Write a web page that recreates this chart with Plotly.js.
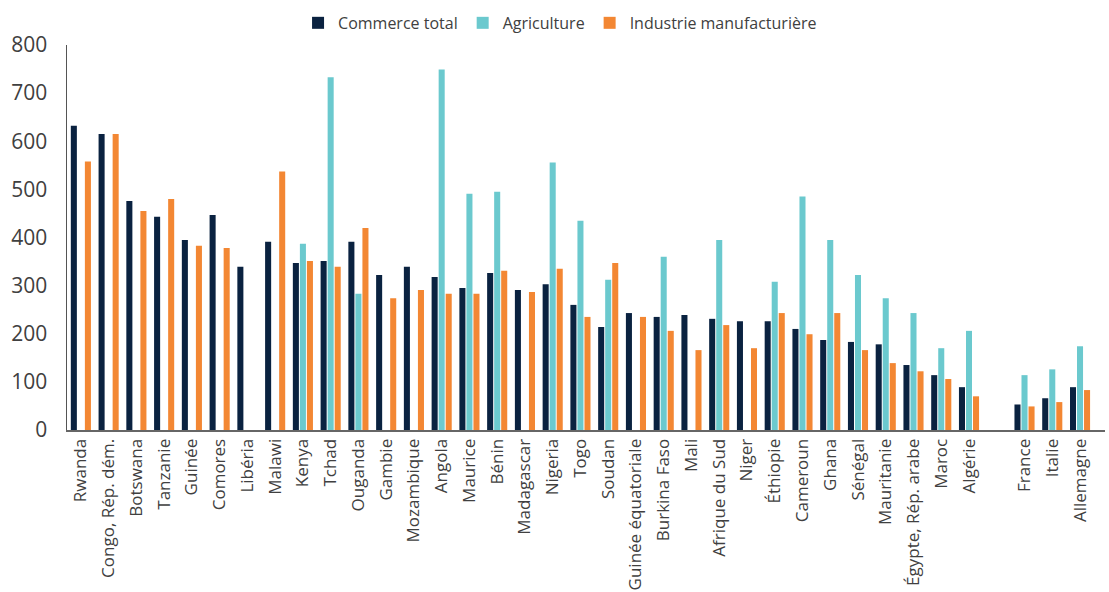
<!DOCTYPE html>
<html><head><meta charset="utf-8">
<script src="https://cdn.plot.ly/plotly-3.0.1.min.js"></script>
<style>html,body{margin:0;padding:0;background:#fff;}#chart{width:1109px;height:592px;}</style>
</head><body><div id="chart"></div>
<script>
const categories = ["Rwanda","Congo, Rép. dém.","Botswana","Tanzanie","Guinée","Comores","Libéria","Malawi","Kenya","Tchad","Ouganda","Gambie","Mozambique","Angola","Maurice","Bénin","Madagascar","Nigeria","Togo","Soudan","Guinée équatoriale","Burkina Faso","Mali","Afrique du Sud","Niger","Éthiopie","Cameroun","Ghana","Sénégal","Mauritanie","Égypte, Rép. arabe","Maroc","Algérie","France","Italie","Allemagne"];
const commerceTotal = [632,615,476,443,395,447,339,391,347,351,391,322,339,318,295,326,291,303,260,214,243,235,239,231,226,226,210,187,183,178,135,114,89,53,66,89];
const agriculture = [null,null,null,null,null,null,null,null,387,733,283,null,null,749,491,495,null,556,435,312,null,360,null,395,null,308,485,395,322,274,243,170,206,114,126,174];
const industrie = [558,615,455,480,383,378,null,537,351,339,420,274,291,283,283,331,287,335,235,347,235,206,166,218,170,243,199,243,166,139,122,106,70,49,58,83];
const africaCount = 33;

const xpos = categories.map((c,i)=> i < africaCount ? i : i+1);

const font = "'Open Sans', sans-serif";
const traces = [
  {name:"Commerce total", y:commerceTotal, color:"#0a2240"},
  {name:"Agriculture", y:agriculture, color:"#6bc9ce"},
  {name:"Industrie manufacturière", y:industrie, color:"#f38733"}
].map(t=>({type:"bar", x:xpos, y:t.y, name:t.name, marker:{color:t.color}, hoverinfo:"x+y+name"}));

const layout = {
  width:1109, height:592,
  margin:{l:67, r:4, t:45, b:162},
  paper_bgcolor:"#fff", plot_bgcolor:"#fff",
  barmode:"group", bargap:0.24, bargroupgap:0.14,
  showlegend:true,
  legend:{orientation:"h", x:0.475, xanchor:"center", y:0.99, yanchor:"top", yref:"container", font:{family:font, size:16, color:"#404040"}, itemwidth:30, traceorder:"normal"},
  xaxis:{range:[-0.5,36.9], tickvals:xpos, ticktext:categories, tickangle:-90, showgrid:false, zeroline:false,
    showline:true, linecolor:"#666", linewidth:2, ticks:"", tickfont:{family:font, size:17, color:"#404040"}},
  yaxis:{range:[0,800], dtick:100, showgrid:false, zeroline:false, showline:true, linecolor:"#555", linewidth:1.5,
    ticks:"", ticklabelstandoff:14, tickfont:{family:font, size:21, color:"#404040"}},
  font:{family:font}
};
Plotly.newPlot("chart", traces, layout, {displayModeBar:false, staticPlot:true});
</script></body></html>
